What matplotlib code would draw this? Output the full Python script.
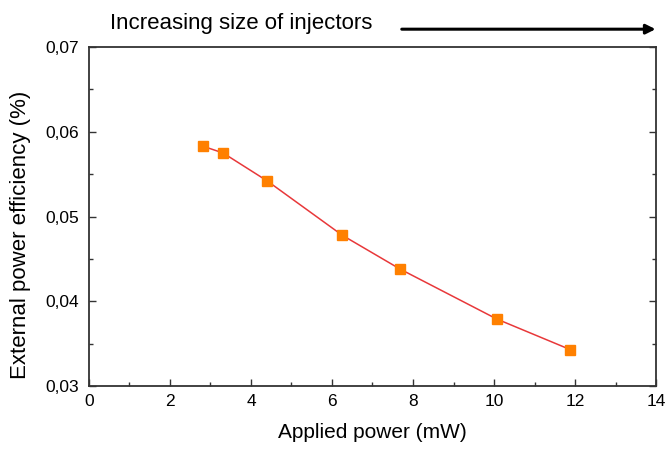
import matplotlib.pyplot as plt
from matplotlib.ticker import MultipleLocator, FuncFormatter

# valores
potencia = [2.81, 3.31, 4.40, 6.25, 7.68, 10.07, 11.88]
eficiencia = [0.0583, 0.0575, 0.0542, 0.0478, 0.0438, 0.0379, 0.0343]

plt.rcParams['font.family'] = ['Liberation Sans', 'DejaVu Sans']

fig = plt.figure(figsize=(6.65, 4.49), dpi=100)
ax = fig.add_axes([0.1338, 0.1403, 0.8527, 0.755])

ax.plot(potencia, eficiencia, color='#e8383a', lw=1.1, zorder=2)
ax.plot(potencia, eficiencia, ls='none', marker='s', ms=6.5,
        mfc='#ff8000', mec='#ff8000', zorder=3)

ax.set_xlim(0, 14)
ax.set_ylim(0.03, 0.07)
ax.xaxis.set_major_locator(MultipleLocator(2))
ax.xaxis.set_minor_locator(MultipleLocator(1))
ax.yaxis.set_major_locator(MultipleLocator(0.01))
ax.yaxis.set_minor_locator(MultipleLocator(0.005))
ax.yaxis.set_major_formatter(FuncFormatter(lambda v, p: f"{v:.2f}".replace('.', ',')))

ax.tick_params(which='both', direction='in', right=True, top=False,
               labelsize=12.5, color='#333333', width=1)
ax.tick_params(which='major', length=5)
ax.tick_params(which='minor', length=3)
ax.tick_params(axis='x', pad=6)
ax.tick_params(axis='y', pad=7)
for s in ax.spines.values():
    s.set_linewidth(1.3)
    s.set_color('#333333')

ax.set_xlabel("Applied power (mW)", fontsize=15, labelpad=10)
ax.set_ylabel("External power efficiency (%)", fontsize=16)
ax.yaxis.set_label_coords(-0.102, 0.445)

fig.text(0.165, 0.948, "Increasing size of injectors", fontsize=16, va='center')
ax.annotate('', xy=(0.99, 0.935), xytext=(0.6, 0.935), xycoords='figure fraction',
            arrowprops=dict(arrowstyle='-|>', color='black', lw=2.2, mutation_scale=14))

fig.savefig('out.png', dpi=100)
